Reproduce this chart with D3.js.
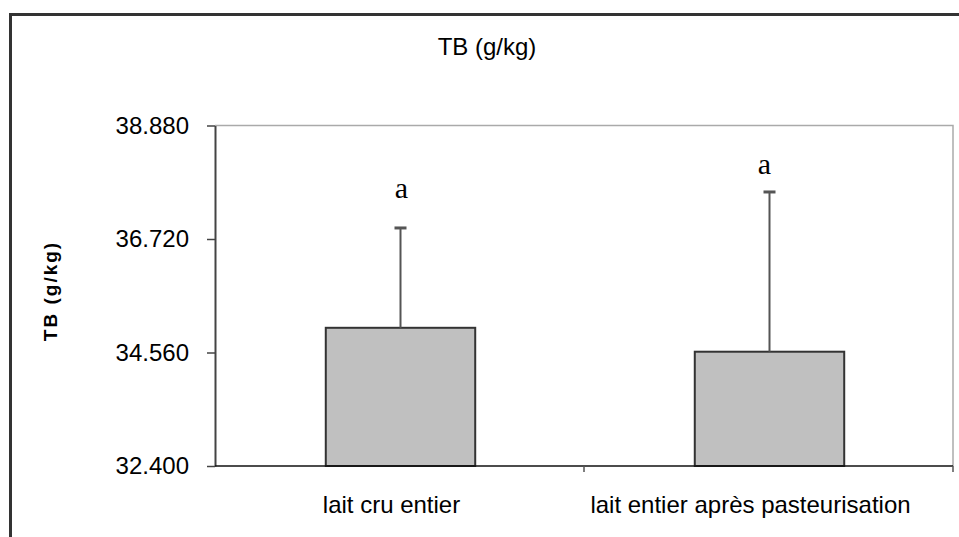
<!DOCTYPE html>
<html>
<head>
<meta charset="utf-8">
<script src="https://cdn.jsdelivr.net/npm/d3@7"></script>
<style>
  html, body { margin: 0; padding: 0; background: #fff; }
  svg { display: block; }
</style>
</head>
<body>
<svg id="chart" width="959" height="537"></svg>
<script>
// ---- data ----
const categories = ["lait cru entier", "lait entier après pasteurisation"];
const means = [35.03, 34.575];
const errors = [1.90, 3.04];
const letters = ["a", "a"];
const letterValues = [37.50, 37.95];
const yTicks = [32.4, 34.56, 36.72, 38.88];
const chartTitle = "TB (g/kg)";
const yTitle = "TB (g/kg)";

// ---- layout ----
const W = 959, H = 537;
const plot = { left: 215, right: 953, top: 125.5, bottom: 466 };
const labelShift = [-8, -18];

const svg = d3.select("#chart");
svg.append("rect").attr("width", W).attr("height", H).attr("fill", "#fff");

// outer frame
svg.append("path")
  .attr("d", `M10.5,${H} V14.5 H${W}`)
  .attr("fill", "none").attr("stroke", "#333").attr("stroke-width", 3);

const x = d3.scaleBand().domain(categories).range([plot.left, plot.right]).padding(0);
const y = d3.scaleLinear().domain([32.4, 38.88]).range([plot.bottom, plot.top]);

// plot area border (top + right)
svg.append("path")
  .attr("d", `M${plot.left},${plot.top} H${plot.right} V${plot.bottom}`)
  .attr("fill", "none").attr("stroke", "#aaa").attr("stroke-width", 1.5);

// title
svg.append("text")
  .attr("x", 487).attr("y", 55)
  .attr("text-anchor", "middle")
  .attr("font-family", "'Liberation Sans', Arial, sans-serif")
  .attr("font-size", 24)
  .attr("fill", "#000")
  .text(chartTitle);

// y axis title
svg.append("text")
  .attr("transform", "translate(57,291) rotate(-90)")
  .attr("text-anchor", "middle")
  .attr("font-family", "'Liberation Sans', Arial, sans-serif")
  .attr("font-size", 19)
  .attr("font-weight", "bold")
  .attr("letter-spacing", 2)
  .attr("fill", "#000")
  .text(yTitle);

// bars
const bw = x.bandwidth() * 0.405;
const cx = d => x(d) + x.bandwidth() / 2 + 1;

svg.append("g").selectAll("rect")
  .data(categories)
  .join("rect")
  .attr("x", d => cx(d) - bw / 2)
  .attr("y", (d, i) => y(means[i]))
  .attr("width", bw)
  .attr("height", (d, i) => y(32.4) - y(means[i]))
  .attr("fill", "#c0c0c0")
  .attr("stroke", "#333")
  .attr("stroke-width", 2);

// error bars
const eg = svg.append("g").attr("stroke", "#555");
categories.forEach((c, i) => {
  eg.append("line")
    .attr("x1", cx(c)).attr("x2", cx(c))
    .attr("y1", y(means[i])).attr("y2", y(means[i] + errors[i]))
    .attr("stroke-width", 2);
  eg.append("line")
    .attr("x1", cx(c) - 6).attr("x2", cx(c) + 6)
    .attr("y1", y(means[i] + errors[i])).attr("y2", y(means[i] + errors[i]))
    .attr("stroke-width", 3);
});

// significance letters
svg.append("g").selectAll("text")
  .data(categories)
  .join("text")
  .attr("x", (d, i) => cx(d) + (i === 1 ? -5 : 1))
  .attr("y", (d, i) => y(letterValues[i]))
  .attr("text-anchor", "middle")
  .attr("font-family", "'Liberation Serif', 'Times New Roman', serif")
  .attr("font-size", 30)
  .attr("fill", "#000")
  .text((d, i) => letters[i]);

// y axis
const yAxis = d3.axisLeft(y).tickValues(yTicks).tickFormat(d3.format(".3f")).tickSize(8).tickSizeOuter(0);
const yg = svg.append("g").attr("transform", `translate(${plot.left},0)`).call(yAxis);
yg.select(".domain").attr("stroke", "#444").attr("stroke-width", 2);
yg.selectAll(".tick line").attr("stroke", "#444").attr("stroke-width", 1.5);
yg.selectAll(".tick text")
  .attr("x", -26)
  .attr("font-family", "'Liberation Sans', Arial, sans-serif")
  .attr("font-size", 24)
  .attr("fill", "#000");

// x axis
const xg = svg.append("g").attr("transform", `translate(0,${plot.bottom})`);
xg.append("line")
  .attr("x1", plot.left).attr("x2", plot.right)
  .attr("stroke", "#111").attr("stroke-width", 1.5);
const bounds = [x(categories[1]), plot.right];
xg.selectAll("line.tk").data(bounds).join("line").attr("class", "tk")
  .attr("x1", d => d).attr("x2", d => d).attr("y1", 0).attr("y2", 6)
  .attr("stroke", "#555").attr("stroke-width", 1.5);
xg.selectAll("text").data(categories).join("text")
  .attr("x", (d, i) => x(d) + x.bandwidth() / 2 + labelShift[i])
  .attr("y", 47)
  .attr("text-anchor", "middle")
  .attr("font-family", "'Liberation Sans', Arial, sans-serif")
  .attr("font-size", 24)
  .attr("fill", "#000")
  .text(d => d);
</script>
</body>
</html>
